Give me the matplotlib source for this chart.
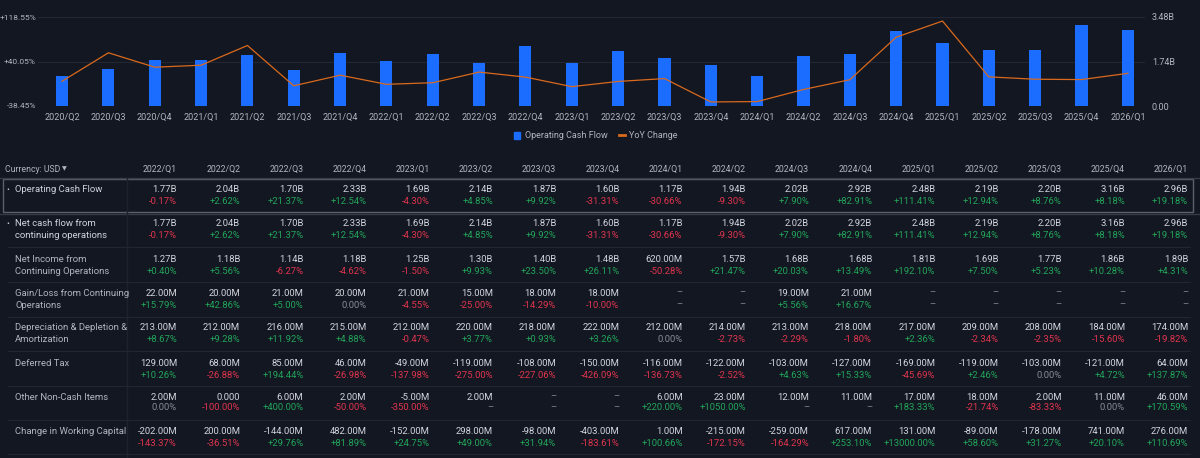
import matplotlib.pyplot as plt
from matplotlib.patches import Patch, Rectangle
from matplotlib.lines import Line2D

# chart data
quarters = ["2020/Q2", "2020/Q3", "2020/Q4", "2021/Q1", "2021/Q2", "2021/Q3", "2021/Q4",
            "2022/Q1", "2022/Q2", "2022/Q3", "2022/Q4", "2023/Q1", "2023/Q2", "2023/Q3",
            "2023/Q4", "2024/Q1", "2024/Q2", "2024/Q3", "2024/Q4", "2025/Q1", "2025/Q2",
            "2025/Q3", "2025/Q4", "2026/Q1"]
ocf = [1.18, 1.43, 1.78, 1.78, 1.99, 1.41, 2.08,
       1.77, 2.04, 1.70, 2.33, 1.69, 2.14, 1.87, 1.60, 1.17, 1.94, 2.02, 2.92,
       2.48, 2.19, 2.20, 3.16, 2.96]
yoy = [5.3, 55.4, 30.0, 33.5, 68.3, -2.8, 15.9,
       -0.17, 2.62, 21.37, 12.54, -4.30, 4.85, 9.92, -31.31, -30.66, -9.30, 7.90, 82.91,
       111.41, 12.94, 8.76, 8.18, 19.18]
pct_ticks = [-38.45, 40.05, 118.55]
pct_labels = ["-38.45%", "+40.05%", "+118.55%"]
val_ticks = [0, 1.74, 3.48]
val_labels = ["0.00", "1.74B", "3.48B"]

# table data
tbl_cols = ["2022/Q1", "2022/Q2", "2022/Q3", "2022/Q4", "2023/Q1", "2023/Q2", "2023/Q3",
            "2023/Q4", "2024/Q1", "2024/Q2", "2024/Q3", "2024/Q4", "2025/Q1", "2025/Q2",
            "2025/Q3", "2025/Q4", "2026/Q1"]
row_labels = [
    ["Operating Cash Flow"],
    ["Net cash flow from", "continuing operations"],
    ["Net Income from", "Continuing Operations"],
    ["Gain/Loss from Continuing", "Operations"],
    ["Depreciation & Depletion &", "Amortization"],
    ["Deferred Tax"],
    ["Other Non-Cash Items"],
    ["Change in Working Capital"],
]
ocf_vals = ["1.77B", "2.04B", "1.70B", "2.33B", "1.69B", "2.14B", "1.87B", "1.60B", "1.17B",
            "1.94B", "2.02B", "2.92B", "2.48B", "2.19B", "2.20B", "3.16B", "2.96B"]
ocf_chg = ["-0.17%", "+2.62%", "+21.37%", "+12.54%", "-4.30%", "+4.85%", "+9.92%", "-31.31%",
           "-30.66%", "-9.30%", "+7.90%", "+82.91%", "+111.41%", "+12.94%", "+8.76%",
           "+8.18%", "+19.18%"]
ni_vals = ["1.27B", "1.18B", "1.14B", "1.18B", "1.25B", "1.30B", "1.40B", "1.48B", "620.00M",
           "1.57B", "1.68B", "1.68B", "1.81B", "1.69B", "1.77B", "1.86B", "1.89B"]
ni_chg = ["+0.40%", "+5.56%", "-6.27%", "-4.62%", "-1.50%", "+9.93%", "+23.50%", "+26.11%",
          "-50.28%", "+21.47%", "+20.03%", "+13.49%", "+192.10%", "+7.50%", "+5.23%",
          "+10.28%", "+4.31%"]
gl_vals = ["22.00M", "20.00M", "21.00M", "20.00M", "21.00M", "15.00M", "18.00M", "18.00M",
           "–", "–", "19.00M", "21.00M", "–", "–", "–", "–", "–"]
gl_chg = ["+15.79%", "+42.86%", "+5.00%", "0.00%", "-4.55%", "-25.00%", "-14.29%", "-10.00%",
          "–", "–", "+5.56%", "+16.67%", "–", "–", "–", "–", "–"]
da_vals = ["213.00M", "212.00M", "216.00M", "215.00M", "212.00M", "220.00M", "218.00M",
           "222.00M", "212.00M", "214.00M", "213.00M", "218.00M", "217.00M", "209.00M",
           "208.00M", "184.00M", "174.00M"]
da_chg = ["+8.67%", "+9.28%", "+11.92%", "+4.88%", "-0.47%", "+3.77%", "+0.93%", "+3.26%",
          "0.00%", "-2.73%", "-2.29%", "-1.80%", "+2.36%", "-2.34%", "-2.35%", "-15.60%",
          "-19.82%"]
dt_vals = ["129.00M", "68.00M", "85.00M", "46.00M", "-49.00M", "-119.00M", "-108.00M",
           "-150.00M", "-116.00M", "-122.00M", "-103.00M", "-127.00M", "-169.00M",
           "-119.00M", "-103.00M", "-121.00M", "64.00M"]
dt_chg = ["+10.26%", "-26.88%", "+194.44%", "-26.98%", "-137.98%", "-275.00%", "-227.06%",
          "-426.09%", "-136.73%", "-2.52%", "+4.63%", "+15.33%", "-45.69%", "+2.46%",
          "0.00%", "+4.72%", "+137.87%"]
onc_vals = ["2.00M", "0.000", "6.00M", "2.00M", "-5.00M", "2.00M", "–", "–", "6.00M",
            "23.00M", "12.00M", "11.00M", "17.00M", "18.00M", "2.00M", "11.00M", "46.00M"]
onc_chg = ["0.00%", "-100.00%", "+400.00%", "-50.00%", "-350.00%", "–", "–", "–",
           "+220.00%", "+1050.00%", "–", "–", "+183.33%", "-21.74%", "-83.33%", "0.00%",
           "+170.59%"]
wc_vals = ["-202.00M", "200.00M", "-144.00M", "482.00M", "-152.00M", "298.00M", "-98.00M",
           "-403.00M", "1.00M", "-215.00M", "-259.00M", "617.00M", "131.00M", "-89.00M",
           "-178.00M", "741.00M", "276.00M"]
wc_chg = ["-143.37%", "-36.51%", "+29.76%", "+81.89%", "+24.75%", "+49.00%", "+31.94%",
          "-183.61%", "+100.66%", "-172.15%", "-164.29%", "+253.10%", "+13000.00%",
          "+58.60%", "+31.27%", "+20.10%", "+110.69%"]
row_vals = [ocf_vals, ocf_vals, ni_vals, gl_vals, da_vals, dt_vals, onc_vals, wc_vals]
row_chg = [ocf_chg, ocf_chg, ni_chg, gl_chg, da_chg, dt_chg, onc_chg, wc_chg]

BG = "#131722"
BLUE = "#1a6dff"
ORANGE = "#d9691c"
TXT = "#d1d4dc"
DIM = "#b2b5be"
GRAY = "#868993"
GREEN = "#22a559"
RED = "#e0344d"
GRID = "#232733"

plt.rcParams["font.family"] = ["Roboto", "DejaVu Sans"]
W, H = 1200, 458
fig = plt.figure(figsize=(W / 100, H / 100), dpi=100, facecolor=BG)

# top chart
ax = fig.add_axes([38 / W, 1 - 106 / H, (1145 - 38) / W, 89 / H])
ax.set_facecolor(BG)
x = list(range(len(quarters)))
ax.bar(x, ocf, width=0.26, color=BLUE, zorder=2)
ax.set_ylim(0, 3.48)
ax.set_xlim(-0.52, 23.37)
ax.set_xticks(x)
ax.set_xticklabels(quarters)
ax.grid(axis="y", color=GRID, lw=0.8, zorder=0)
for s in ax.spines.values():
    s.set_visible(False)

ax2 = ax.twinx()
ax2.plot(x, yoy, color=ORANGE, lw=0.9, zorder=3)
ax2.set_ylim(pct_ticks[0], pct_ticks[-1])
for s in ax2.spines.values():
    s.set_visible(False)

# twinx moves the ticks around, so set sides afterwards
ax.yaxis.tick_right()
ax.set_yticks(val_ticks)
ax.set_yticklabels(val_labels)
ax.tick_params(axis="both", length=0, labelsize=6.5, labelcolor=DIM)
ax.tick_params(axis="x", pad=5)
ax.tick_params(axis="y", pad=5, left=False, labelleft=False, right=False, labelright=True)

ax2.yaxis.tick_left()
ax2.set_yticks(pct_ticks)
ax2.set_yticklabels(pct_labels)
ax2.tick_params(axis="y", length=0, labelsize=6.0, labelcolor=DIM, pad=1.5,
                right=False, labelright=False, labelleft=True)

handles = [Patch(color=BLUE, label="Operating Cash Flow"),
           Line2D([0], [0], color=ORANGE, lw=2, label="YoY Change")]
fig.legend(handles=handles, loc="center", bbox_to_anchor=(596 / W, 1 - 136 / H), ncol=2,
           frameon=False, fontsize=6.5, labelcolor=DIM, handlelength=0.7, handleheight=0.7,
           handletextpad=0.5, columnspacing=1.2)

# table
t = fig.add_axes([0, 0, 1, 1], facecolor="none")
t.set_xlim(0, W)
t.set_ylim(H, 0)
t.axis("off")

t.text(5, 169, "Currency: USD", color=DIM, fontsize=6.2, va="center")
t.text(62, 168.5, "▼", color=DIM, fontsize=4.5, va="center", family="DejaVu Sans")
col_x = [177 + 63.2 * j for j in range(len(tbl_cols))]
for cx, c in zip(col_x, tbl_cols):
    t.text(cx, 169, c, color=DIM, fontsize=6.3, ha="right", va="center")

t.plot([0, W], [178, 178], color="#363a45", lw=1)
t.add_patch(Rectangle((3, 179), 1190, 33, fill=False, edgecolor="#5d606b", lw=1))
t.plot([0, W], [213.5, 213.5], color="#363a45", lw=1)
t.plot([127, 127], [178, H], color="#1e222c", lw=1)

row_y = [(190, 202), (224, 236), (259, 271), (293, 305), (328, 340), (363, 375),
         (397, 408), (432, 443)]
sep_y = [247, 282, 317, 351, 386, 420, 454]
for sy in sep_y:
    t.plot([8, 1190], [sy, sy], color="#22262f", lw=0.8)


def chg_color(s):
    if s.startswith("+"):
        return GREEN
    if s.startswith("-"):
        return RED
    return GRAY


for i, (lab, vals, chgs, (y1, y2)) in enumerate(zip(row_labels, row_vals, row_chg, row_y)):
    bullet = i < 2
    lc = TXT if bullet else DIM
    if bullet:
        t.text(6, y1, "•", color=lc, fontsize=6, va="center")
    t.text(15, y1, lab[0], color=lc, fontsize=6.8, va="center")
    if len(lab) > 1:
        t.text(15, y2, lab[1], color=lc, fontsize=6.8, va="center")
    for cx, v, c in zip(col_x, vals, chgs):
        t.text(cx, y1, v, color=TXT if v != "–" else GRAY, fontsize=6.8, ha="right",
               va="center")
        t.text(cx, y2, c, color=chg_color(c), fontsize=6.8, ha="right", va="center")

fig.savefig("out.png", dpi=100, facecolor=BG)
